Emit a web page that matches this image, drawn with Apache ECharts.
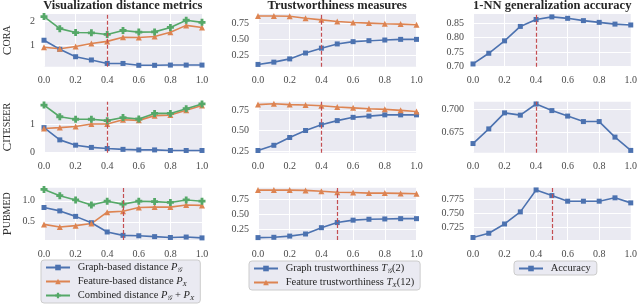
<!DOCTYPE html>
<html><head><meta charset="utf-8">
<script src="https://cdn.jsdelivr.net/npm/echarts@6/dist/echarts.min.js"></script>
<style>html,body{margin:0;padding:0;background:#fff}#c{width:640px;height:308px}</style>
</head><body><div id="c"></div>
<script>
// ---------------- data ----------------
const alphas = [0.0, 0.1, 0.2, 0.3, 0.4, 0.5, 0.6, 0.7, 0.8, 0.9, 1.0];
const xTicks = [0.0, 0.2, 0.4, 0.6, 0.8, 1.0];
const datasets = ['Cora', 'Citeseer', 'Pubmed'];
const columnTitles = ['Visualization distance metrics', 'Trustworthiness measures', '1-NN generalization accuracy'];
const selectedAlpha = [0.4, 0.4, 0.5];

const distNames = ['Graph-based distance PG', 'Feature-based distance PX', 'Combined distance PG + PX'];
const trustNames = ['Graph trustworthiness TG(2)', 'Feature trustworthiness TX(12)'];
const accNames = ['Accuracy'];

// Cora
const coraGraphDist    = [1.20, 0.81, 0.49, 0.35, 0.20, 0.20, 0.12, 0.12, 0.13, 0.13, 0.13];
const coraFeatDist     = [0.90, 0.83, 0.93, 1.06, 1.15, 1.33, 1.32, 1.36, 1.54, 1.84, 1.75];
const coraCombDist     = [2.22, 1.70, 1.53, 1.52, 1.45, 1.62, 1.55, 1.56, 1.75, 2.06, 1.97];
const coraGraphTrust   = [0.115, 0.15, 0.20, 0.29, 0.365, 0.43, 0.465, 0.48, 0.49, 0.50, 0.50];
const coraFeatTrust    = [0.86, 0.86, 0.855, 0.825, 0.80, 0.775, 0.76, 0.75, 0.74, 0.735, 0.725];
const coraAccuracy     = [0.709, 0.746, 0.789, 0.839, 0.863, 0.872, 0.867, 0.859, 0.853, 0.847, 0.844];
// Citeseer
const citeGraphDist    = [0.89, 0.45, 0.26, 0.18, 0.14, 0.11, 0.09, 0.09, 0.07, 0.07, 0.07];
const citeFeatDist     = [0.86, 0.89, 0.93, 1.02, 1.02, 1.17, 1.15, 1.32, 1.34, 1.51, 1.68];
const citeCombDist     = [1.70, 1.28, 1.19, 1.19, 1.14, 1.25, 1.20, 1.40, 1.40, 1.57, 1.74];
const citeGraphTrust   = [0.257, 0.32, 0.415, 0.50, 0.57, 0.62, 0.66, 0.675, 0.69, 0.69, 0.69];
const citeFeatTrust    = [0.815, 0.825, 0.815, 0.81, 0.80, 0.785, 0.775, 0.765, 0.757, 0.745, 0.73];
const citeAccuracy     = [0.663, 0.679, 0.6965, 0.694, 0.7062, 0.699, 0.693, 0.687, 0.687, 0.670, 0.6555];
// Pubmed
const pubGraphDist     = [0.84, 0.76, 0.63, 0.48, 0.26, 0.18, 0.17, 0.15, 0.13, 0.14, 0.12];
const pubFeatDist      = [0.44, 0.38, 0.41, 0.46, 0.73, 0.75, 0.84, 0.85, 0.85, 0.90, 0.89];
const pubCombDist      = [1.27, 1.12, 1.02, 0.90, 0.99, 0.92, 0.99, 0.98, 0.96, 1.02, 0.99];
const pubGraphTrust    = [0.11, 0.115, 0.135, 0.17, 0.275, 0.36, 0.40, 0.415, 0.42, 0.425, 0.425];
const pubFeatTrust     = [0.90, 0.90, 0.90, 0.895, 0.88, 0.865, 0.86, 0.85, 0.85, 0.845, 0.84];
const pubAccuracy      = [0.7075, 0.715, 0.7315, 0.753, 0.792, 0.782, 0.772, 0.772, 0.772, 0.778, 0.769];

// y-axis limits and tick labels per panel (row-major)
const yLimits = [
  [0.06, 2.33], [0.08, 0.89], [0.6995, 0.882],
  [-0.01, 1.82], [0.23, 0.85], [0.653, 0.7087],
  [0.07, 1.31], [0.07, 0.94], [0.703, 0.796]
];
const yTickValues = [
  [1, 2], [0.25, 0.5, 0.75], [0.70, 0.75, 0.80, 0.85],
  [0, 1], [0.25, 0.5, 0.75], [0.675, 0.700],
  [0.5, 1.0], [0.25, 0.5, 0.75], [0.725, 0.750, 0.775]
];
const yTickLabels = [
  ['1', '2'], ['0.25', '0.50', '0.75'], ['0.70', '0.75', '0.80', '0.85'],
  ['0', '1'], ['0.25', '0.50', '0.75'], ['0.675', '0.700'],
  ['0.5', '1.0'], ['0.25', '0.50', '0.75'], ['0.725', '0.750', '0.775']
];
const xTickLabels = ['0.0', '0.2', '0.4', '0.6', '0.8', '1.0'];

const panelSeries = [
  [coraGraphDist, coraFeatDist, coraCombDist], [coraGraphTrust, coraFeatTrust], [coraAccuracy],
  [citeGraphDist, citeFeatDist, citeCombDist], [citeGraphTrust, citeFeatTrust], [citeAccuracy],
  [pubGraphDist, pubFeatDist, pubCombDist], [pubGraphTrust, pubFeatTrust], [pubAccuracy]
];
const panelNames = [distNames, trustNames, accNames];

// ---------------- styling ----------------
const FONT = 'Liberation Serif';
const BLUE = '#4C72B0', ORANGE = '#DD8452', GREEN = '#55A868', RED = '#C44E52';
const colors = [BLUE, ORANGE, GREEN];
const plusPath = 'path://M3,0H7V3H10V7H7V10H3V7H0V3H3Z';
const symbols = ['rect', 'triangle', plusPath];
const symbolSizes = [5, 6, 7];

const colLeft = [43.5, 258, 473];
const plotW = 158.5;
const rowTop = [14, 101.7, 187.7];
const rowBottom = [66.7, 152.7, 240];

const rowLabelRich = [
  '{a|C}{b|ORA}', '{a|C}{b|ITESEER}', '{a|P}{b|UBMED}'
];

const legendRich = {
  n: {fontFamily: FONT, fontSize: 10.5, color: '#262626', lineHeight: 13},
  i: {fontFamily: FONT, fontSize: 10.5, fontStyle: 'italic', color: '#262626', lineHeight: 13},
  s: {fontFamily: FONT, fontSize: 7, fontStyle: 'italic', color: '#262626', verticalAlign: 'bottom', lineHeight: 9}
};
const legendFmt = {
  'Graph-based distance PG': '{n| Graph-based distance }{i|P}{s|𝒢}',
  'Feature-based distance PX': '{n| Feature-based distance }{i|P}{s|X}',
  'Combined distance PG + PX': '{n| Combined distance }{i|P}{s|𝒢}{n| + }{i|P}{s|X}',
  'Graph trustworthiness TG(2)': '{n| Graph trustworthiness }{i|T}{s|𝒢}{n|(2)}',
  'Feature trustworthiness TX(12)': '{n| Feature trustworthiness }{i|T}{s|X}{n|(12)}',
  'Accuracy': '{n| Accuracy}'
};

const grids = [], xAxes = [], yAxes = [], series = [];
for (let r = 0; r < 3; r++) {
  for (let c = 0; c < 3; c++) {
    const gi = r * 3 + c;
    grids.push({
      left: colLeft[c], width: plotW, top: rowTop[r], height: rowBottom[r] - rowTop[r],
      show: true, backgroundColor: '#EAEAF2', borderWidth: 0, containLabel: false
    });
    xAxes.push({
      type: 'value', gridIndex: gi, min: 0, max: 1, interval: 0.2,
      axisLine: {show: false}, axisTick: {show: false},
      splitLine: {show: true, lineStyle: {color: '#FFFFFF', width: 1}},
      axisLabel: {
        margin: 9, color: '#4a4a4a', fontFamily: FONT, fontSize: 10,
        formatter: v => { const k = xTicks.findIndex(t => Math.abs(t - v) < 1e-6); return k >= 0 ? xTickLabels[k] : ''; }
      }
    });
    const tv = yTickValues[gi], tl = yTickLabels[gi];
    const ya = {
      type: 'value', gridIndex: gi, min: yLimits[gi][0], max: yLimits[gi][1],
      axisLine: {show: false},
      axisTick: {show: false, customValues: tv},
      splitLine: {show: true, lineStyle: {color: '#FFFFFF', width: 1}},
      axisLabel: {
        customValues: tv, margin: 9, color: '#4a4a4a', fontFamily: FONT, fontSize: 10,
        formatter: v => { const k = tv.findIndex(t => Math.abs(t - v) < 1e-9); return k >= 0 ? tl[k] : ''; }
      }
    };
    if (c === 0) {
      ya.name = rowLabelRich[r];
      ya.nameLocation = 'middle';
      ya.nameRotate = 90;
      ya.nameGap = 30;
      ya.nameTextStyle = {
        rich: {
          a: {fontFamily: FONT, fontSize: 13, color: '#303030'},
          b: {fontFamily: FONT, fontSize: 10, color: '#303030'}
        }
      };
    }
    yAxes.push(ya);
    const data = panelSeries[gi];
    data.forEach((vals, si) => {
      const s = {
        type: 'line', name: panelNames[c][si], xAxisIndex: gi, yAxisIndex: gi,
        data: alphas.map((a, k) => [a, vals[k]]),
        symbol: symbols[si], symbolSize: symbolSizes[si],
        color: colors[si],
        lineStyle: {color: colors[si], width: 1.6},
        itemStyle: {color: colors[si]},
        clip: true, animation: false, z: 3
      };
      if (si === 0) {
        s.markLine = {
          silent: true, symbol: 'none', animation: false,
          label: {show: false},
          lineStyle: {color: RED, type: [4, 2], width: 1.2},
          data: [{xAxis: selectedAlpha[r]}]
        };
      }
      series.push(s);
    });
  }
}

const graphic = columnTitles.map((t, c) => ({
  type: 'text', x: colLeft[c] + plotW / 2, y: 6,
  style: {text: t, font: 'bold 12.5px "' + FONT + '"', fill: '#262626', textAlign: 'center', textVerticalAlign: 'middle'}
}));

const legendBase = {
  orient: 'vertical', itemWidth: 24, itemHeight: 7, itemGap: 2,
  backgroundColor: '#EAEAF2', borderColor: '#CCCCCC', borderWidth: 1, borderRadius: 3,
  padding: [2, 6, 1, 4], selectedMode: false,
  formatter: n => legendFmt[n],
  textStyle: {fontFamily: FONT, fontSize: 10.5, color: '#262626', rich: legendRich}
};
const legend = [
  Object.assign({}, legendBase, {data: distNames, left: 41, top: 260}),
  Object.assign({}, legendBase, {data: trustNames, left: 249, top: 261}),
  Object.assign({}, legendBase, {data: accNames, left: 514, top: 261})
];

const chart = echarts.init(document.getElementById('c'), null, {renderer: 'canvas'});
chart.setOption({
  animation: false,
  backgroundColor: '#FFFFFF',
  grid: grids, xAxis: xAxes, yAxis: yAxes, series, legend, graphic
});
</script></body></html>
